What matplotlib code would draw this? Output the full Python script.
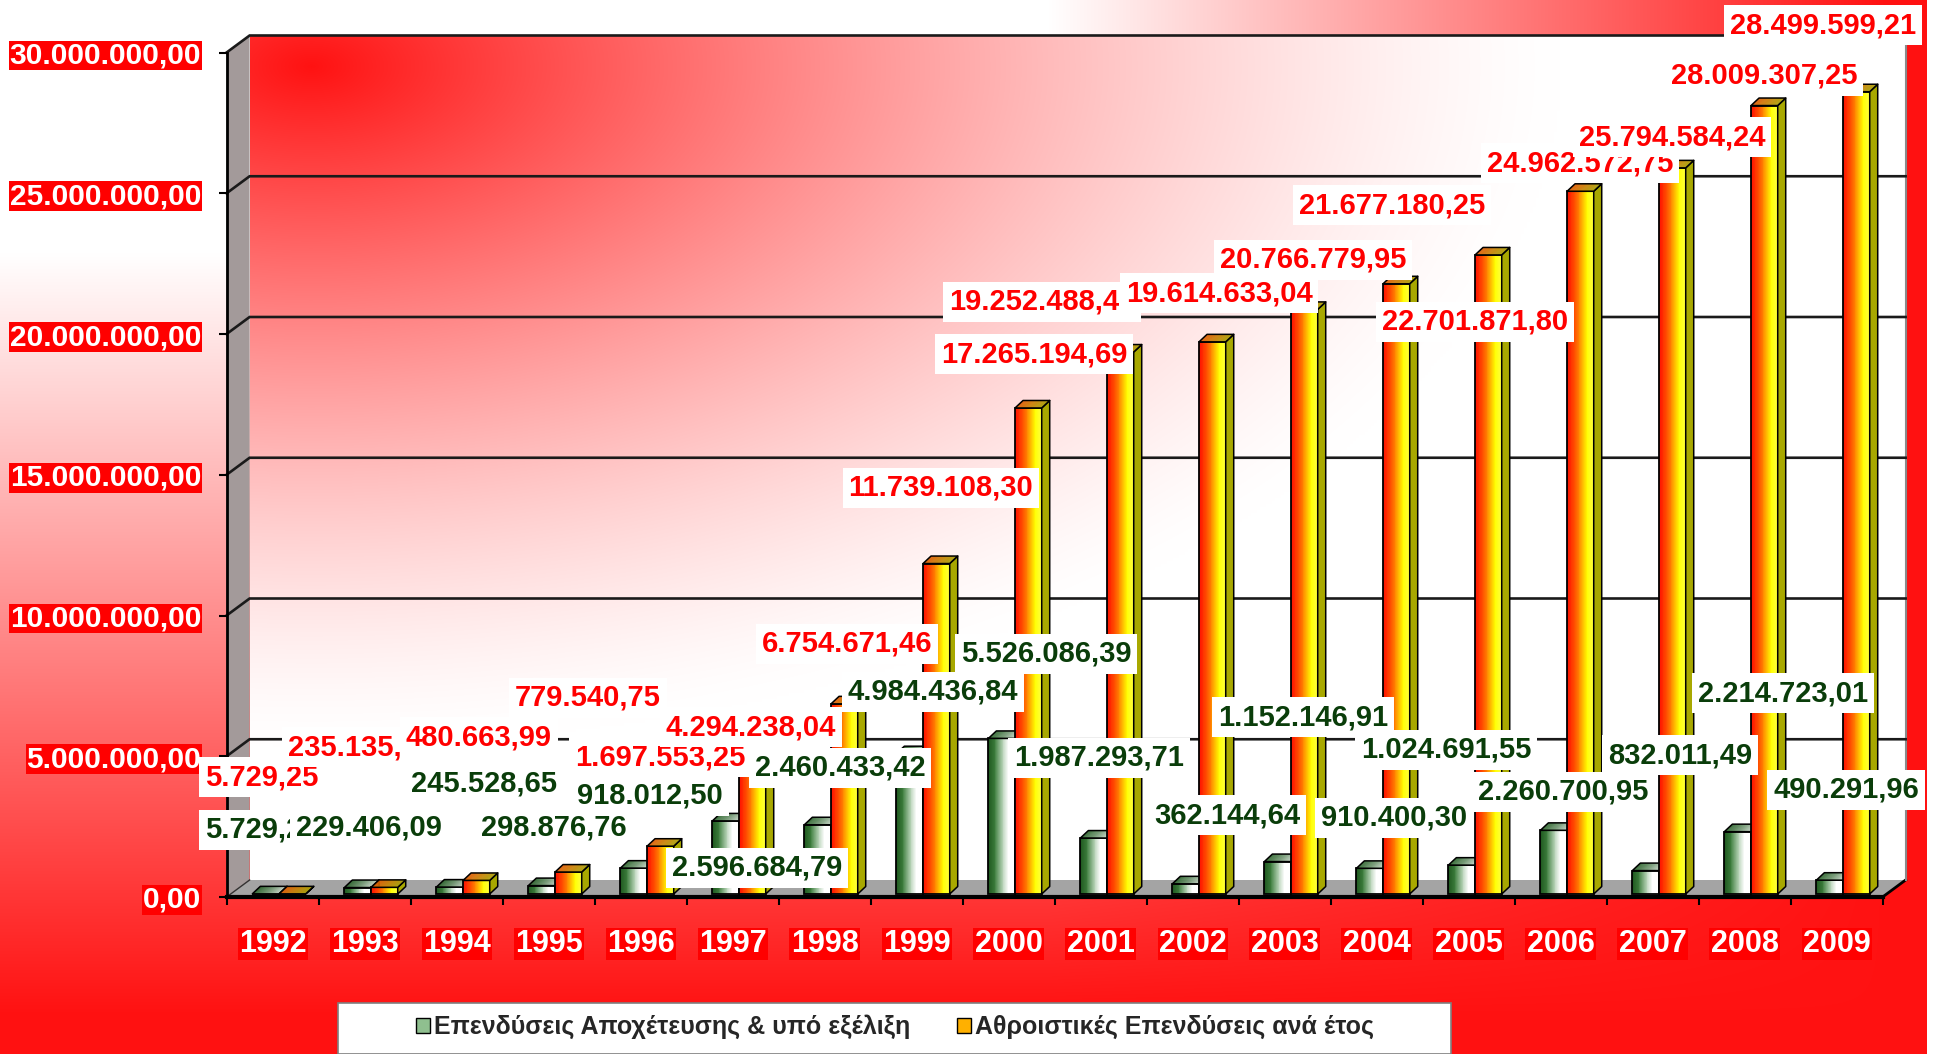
import numpy as np
import matplotlib
matplotlib.use('Agg')
import matplotlib.pyplot as plt
from matplotlib.patches import Polygon, Rectangle, Patch
from matplotlib.collections import PolyCollection
from matplotlib.colors import LinearSegmentedColormap

W, H = 1941, 1054
DPI = 100

# ---------------- data ----------------
years = ['1992', '1993', '1994', '1995', '1996', '1997', '1998', '1999', '2000',
         '2001', '2002', '2003', '2004', '2005', '2006', '2007', '2008', '2009']
invest = [5729.25, 229406.09, 245528.65, 298876.76, 918012.50, 2596684.79,
          2460433.42, 4984436.84, 5526086.39, 1987293.71, 362144.64, 1152146.91,
          910400.30, 1024691.55, 2260700.95, 832011.49, 2214723.01, 490291.96]
cumul = [5729.25, 235135.34, 480663.99, 779540.75, 1697553.25, 4294238.04,
         6754671.46, 11739108.30, 17265194.69, 19252488.40, 19614633.04,
         20766779.95, 21677180.25, 22701871.80, 24962572.75, 25794584.24,
         28009307.25, 28499599.21]
series_names = ['Επενδύσεις Αποχέτευσης & υπό εξέλιξη',
                'Αθροιστικές Επενδύσεις ανά έτος']
ytick_values = [0, 5e6, 10e6, 15e6, 20e6, 25e6, 30e6]

# label centres (reference pixels: x from left, y from top)
cumul_label_xy = [(262, 777), (361, 747), (479, 737), (588, 698), (660, 757),
                  (751, 727), (847, 644), (941, 488), (1034, 354), (1042, 302),
                  (1219, 293), (1313, 260), (1392, 205), (1475, 322),
                  (1580, 163), (1672, 137), (1764, 76), (1823, 25)]
invest_label_xy = [(262, 830), (369, 828), (484, 783), (554, 828), (650, 796),
                   (757, 868), (840, 768), (933, 692), (1046, 654), (1099, 758),
                   (1227, 815), (1303, 717), (1394, 818), (1446, 750),
                   (1563, 792), (1680, 755), (1783, 693), (1846, 790)]


def fmt(v):
    s = f"{v:,.2f}"
    return s.replace(',', '#').replace('.', ',').replace('#', '.')


plt.rcParams['font.family'] = ['Liberation Sans', 'DejaVu Sans']

fig = plt.figure(figsize=(W / DPI, H / DPI), dpi=DPI)

# ---------------- figure background gradient ----------------
yy, xx = np.mgrid[0:H, 0:W]
u = xx / W
v = yy / H
su = np.clip((u - 0.54) / 0.43, 0, 1)
sv = np.clip((v - 0.24) / 0.72, 0, 1)
s = 1 - (1 - su) * (1 - sv)
bg = np.ones((H, W, 3))
bg[..., 1] = 1 - 0.93 * s
bg[..., 2] = 1 - 0.93 * s
bg[:, 1927:, :] = 1.0
bgax = fig.add_axes([0, 0, 1, 1], zorder=-10)
bgax.imshow(bg, aspect='auto', interpolation='nearest')
bgax.axis('off')

# ---------------- main axes ----------------
ax = fig.add_axes([226.6 / W, 157 / H, 1656 / W, 844.5 / H])
ax.patch.set_visible(False)
NCAT = len(years)
YMAX = 30e6
pos = ax.get_position()
sx = pos.width * W / NCAT      # px per category
sy = pos.height * H / YMAX     # px per value unit

wdx, wdy = 23 / sx, 17 / sy    # wall depth
bdx, bdy = 8 / sx, 7.5 / sy    # bar depth
b0 = 3 / sy                    # bar base lift

# back wall gradient (wall pixels, red glow from top-left corner)
wpw, wph = 1656, 845
gh, gw = 282, 552
VV, UU = np.mgrid[0:gh, 0:gw]
PX = UU / (gw - 1) * wpw - 60
PY = VV / (gh - 1) * wph - 30
d = np.sqrt((PX / 1250) ** 2 + (PY / 680) ** 2)
sw = np.clip(1 - d, 0, 1) ** 1.4
wall = np.ones((gh, gw, 3))
wall[..., 1] = 1 - 0.93 * sw
wall[..., 2] = 1 - 0.93 * sw
ax.imshow(wall, extent=(wdx, NCAT + wdx, wdy, YMAX + wdy), aspect='auto',
          zorder=0.1, clip_on=False, interpolation='bilinear')

# left side wall
ax.add_patch(Polygon([(0, 0), (0, YMAX), (wdx, YMAX + wdy), (wdx, wdy)],
                     closed=True, fc='#a39a9a', ec='none', zorder=0.2, clip_on=False))
# floor
ax.add_patch(Polygon([(0, 0), (NCAT, 0), (NCAT + wdx, wdy), (wdx, wdy)],
                     closed=True, fc='#a4a4a4', ec='none', zorder=0.3, clip_on=False))
ax.plot([NCAT, NCAT + wdx], [0, wdy], color='black', lw=2, zorder=0.4, clip_on=False)
ax.plot([NCAT + wdx, NCAT + wdx], [wdy, YMAX + wdy], color='#8a8a8a', lw=1.5,
        zorder=0.4, clip_on=False)

# gridlines on back wall and side wall
for yv in ytick_values[1:]:
    ax.plot([0, wdx, NCAT + wdx], [yv, yv + wdy, yv + wdy], color='#1a1a1a',
            lw=1.9, zorder=0.5, clip_on=False, solid_joinstyle='miter')
ax.plot([0, wdx], [0, wdy], color='#333333', lw=1.0, zorder=0.5, clip_on=False)


# ---------------- bars ----------------
def ramp(stops, n):
    cm = LinearSegmentedColormap.from_list('r', stops)
    return [cm((k + 0.5) / n) for k in range(n)]


def draw_bars(x0, w, vals, front_stops, top_stops, side_color, z):
    vals = np.asarray(vals)
    n = 30
    cols = ramp(front_stops, n)
    sw_ = w / n
    for k, c in enumerate(cols):
        width = min(sw_ * 1.4, w - k * sw_)
        ax.bar(x0 + k * sw_, vals, width=width, bottom=b0, align='edge',
               color=c, linewidth=0, zorder=z)
    ax.bar(x0, vals, width=w, bottom=b0, align='edge', fill=False,
           edgecolor='black', linewidth=1.3, zorder=z + 0.01)
    # side faces
    sides = []
    for xi, hv in zip(x0, vals):
        xr = xi + w
        sides.append([(xr, b0), (xr, b0 + hv), (xr + bdx, b0 + hv + bdy),
                      (xr + bdx, b0 + bdy)])
    ax.add_collection(PolyCollection(sides, facecolors=side_color,
                                     edgecolors='black', linewidths=1.1,
                                     zorder=z + 0.02))
    # top faces with gradient
    tcols = ramp(top_stops, n)
    polys, pc = [], []
    outlines = []
    for xi, hv in zip(x0, vals):
        yt = b0 + hv
        for k in range(n):
            xa = xi + k * sw_
            xb = xi + min((k + 1.4) * sw_, w)
            polys.append([(xa, yt), (xb, yt), (xb + bdx, yt + bdy), (xa + bdx, yt + bdy)])
            pc.append(tcols[k])
        outlines.append([(xi, yt), (xi + w, yt), (xi + w + bdx, yt + bdy),
                         (xi + bdx, yt + bdy)])
    ax.add_collection(PolyCollection(polys, facecolors=pc, edgecolors='none',
                                     zorder=z + 0.03))
    ax.add_collection(PolyCollection(outlines, facecolors='none',
                                     edgecolors='black', linewidths=1.1,
                                     zorder=z + 0.04))


idx = np.arange(NCAT)
bw = 0.29
draw_bars(idx + 0.28, bw, invest,
          ['#1d571d', '#3d7d3d', '#a9c9a9', '#ffffff', '#ffffff'],
          ['#2a632a', '#6f956f', '#c9d6c9'], '#6a866a', 2.0)
draw_bars(idx + 0.28 + bw, bw, cumul,
          ['#ff1000', '#ff4400', '#ff9400', '#ffff00', '#ffff40'],
          ['#e05800', '#c88000', '#a8a000'], '#a8a800', 2.1)

ax.set_xlim(0, NCAT)
ax.set_ylim(0, YMAX)

# ---------------- axes / ticks ----------------
for sp in ['top', 'right']:
    ax.spines[sp].set_visible(False)
ax.spines['left'].set_linewidth(2.0)
ax.spines['bottom'].set_linewidth(3.0)
ax.spines['left'].set_zorder(2.6)
ax.spines['bottom'].set_zorder(2.6)

ax.set_yticks(ytick_values)
ax.set_yticklabels([fmt(vv) for vv in ytick_values])
ax.tick_params(axis='y', length=5.8, width=1.5, pad=12.5, labelsize=21.5,
               labelcolor='white')
for t in ax.get_yticklabels():
    t.set_fontweight('bold')
    t.set_bbox(dict(boxstyle='square,pad=0.03', fc='#ff0000', ec='none'))

ax.set_xticks(idx + 0.5)
ax.set_xticklabels(years)
ax.set_xticks(np.arange(NCAT + 1), minor=True)
ax.tick_params(axis='x', which='major', length=0, pad=23, labelsize=22,
               labelcolor='white')
ax.tick_params(axis='x', which='minor', length=6, width=1.5)
for t in ax.get_xticklabels():
    t.set_fontweight('bold')
    t.set_bbox(dict(boxstyle='square,pad=0.04', fc='#ff0000', ec='none'))

# ---------------- data labels ----------------
for k, (val, (px, py)) in enumerate(zip(cumul, cumul_label_xy)):
    ax.text(px / W, 1 - py / H, fmt(val), transform=fig.transFigure,
            ha='center', va='center', fontsize=21, fontweight='bold',
            color='#ff0000', zorder=5 + k * 0.01, clip_on=False,
            bbox=dict(boxstyle='square,pad=0.2', fc='white', ec='none'))
for k, (val, (px, py)) in enumerate(zip(invest, invest_label_xy)):
    ax.text(px / W, 1 - py / H, fmt(val), transform=fig.transFigure,
            ha='center', va='center', fontsize=21, fontweight='bold',
            color='#0a3d0a', zorder=6 + k * 0.01, clip_on=False,
            bbox=dict(boxstyle='square,pad=0.2', fc='white', ec='none'))

# ---------------- legend ----------------
fig.add_artist(Rectangle((338 / W, 0), (1451 - 338) / W, (1054 - 1003) / H,
                         transform=fig.transFigure, fc='white', ec='#7f7f7f',
                         lw=1.2, zorder=8))
handles = [Patch(facecolor='#8fbf8f', edgecolor='black', lw=1.0),
           Patch(facecolor='#ffb000', edgecolor='black', lw=1.0)]
leg = fig.legend(handles, series_names, loc='center left',
                 bbox_to_anchor=(416 / W, 1 - 1027 / H), ncol=2, frameon=False,
                 prop={'size': 18, 'weight': 'bold'}, handlelength=0.55,
                 handleheight=0.55, handletextpad=0.15, columnspacing=1.9,
                 borderpad=0, borderaxespad=0, labelcolor='#262626')
leg.set_zorder(9)

fig.savefig('out.png', dpi=DPI)
